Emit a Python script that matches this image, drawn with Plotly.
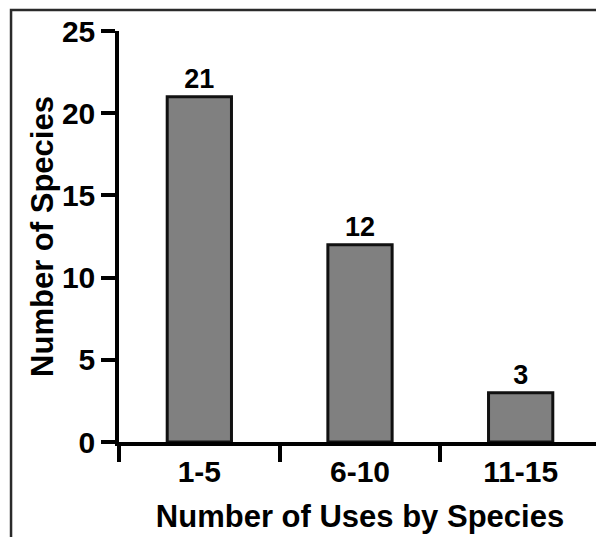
import plotly.graph_objects as go

categories = ["1-5", "6-10", "11-15"]
species_counts = [21, 12, 3]
y_tick_values = [0, 5, 10, 15, 20, 25]
x_title = "Number of Uses by Species"
y_title = "Number of Species"

FONT = "Liberation Sans, Arial, Helvetica, sans-serif"

fig = go.Figure()
fig.add_trace(go.Bar(
    x=categories,
    y=species_counts,
    marker=dict(color="#808080", line=dict(color="#111111", width=3)),
    text=[str(v) for v in species_counts],
    textposition="outside",
    constraintext="none",
    cliponaxis=False,
    textfont=dict(family=FONT, size=27, color="#000000", weight="bold"),
    hoverinfo="skip",
))

# page body has an 8px margin; figure is sized/margined to compensate
fig.update_layout(
    width=596,
    height=529,
    margin=dict(l=111, r=3, t=23, b=95),
    paper_bgcolor="white",
    plot_bgcolor="white",
    bargap=0.6,
    showlegend=False,
    font=dict(family=FONT, color="#000000"),
)

fig.update_xaxes(
    type="category",
    range=[-0.5, 2.5],
    showline=True,
    linecolor="#000000",
    linewidth=3.5,
    ticks="outside",
    tickson="boundaries",
    ticklen=16,
    tickwidth=3.5,
    tickcolor="#000000",
    tickfont=dict(family=FONT, size=30, color="#000000", weight="bold"),
    showgrid=False,
    zeroline=False,
    title=dict(text=x_title, font=dict(family=FONT, size=31, color="#000000", weight="bold"), standoff=20),
    fixedrange=True,
)

fig.update_yaxes(
    range=[0, 25],
    tickvals=y_tick_values,
    showline=True,
    linecolor="#000000",
    linewidth=3.5,
    ticks="outside",
    ticklen=14,
    tickwidth=3.5,
    tickcolor="#000000",
    tickfont=dict(family=FONT, size=30, color="#000000", weight="bold"),
    showgrid=False,
    zeroline=False,
    title=dict(text=y_title, font=dict(family=FONT, size=31, color="#000000", weight="bold"), standoff=0),
    fixedrange=True,
)

# Outer frame around the figure (cut at right/bottom like the reference)
fig.add_shape(
    type="rect",
    xref="paper", yref="paper",
    x0=-0.224, x1=1.05, y0=-0.35, y1=1.051,
    line=dict(color="#2a2a2a", width=2.5),
    fillcolor="rgba(0,0,0,0)",
    layer="below",
)

fig.write_html("out.html")
